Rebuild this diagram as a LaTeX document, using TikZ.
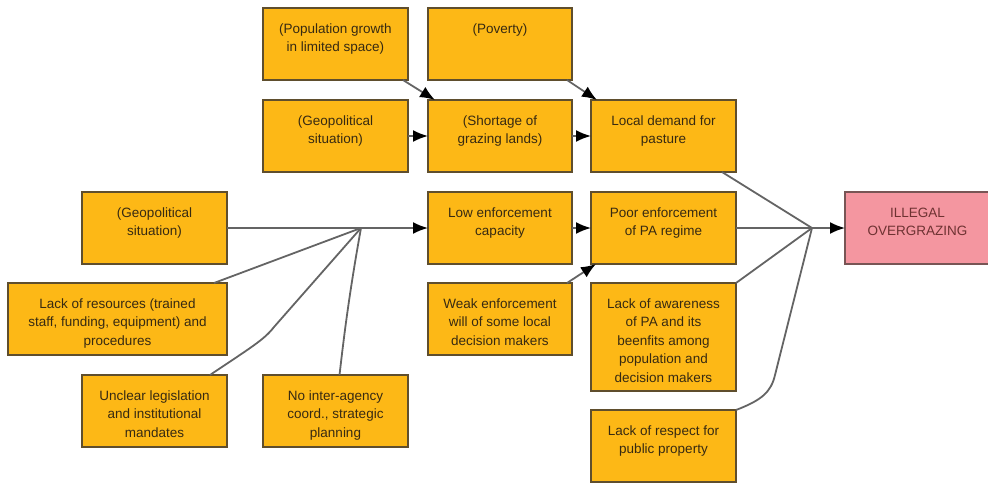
\documentclass[tikz,border=0pt]{standalone}
\usepackage{fontspec}
\setmainfont{Liberation Sans}
\usetikzlibrary{arrows.meta,calc}

\definecolor{boxfill}{RGB}{253,184,22}
\definecolor{boxline}{RGB}{95,78,45}
\definecolor{ink}{RGB}{55,42,18}
\definecolor{goalfill}{RGB}{244,150,160}
\definecolor{goalline}{RGB}{120,85,85}
\definecolor{goalink}{RGB}{110,50,50}
\definecolor{linkgray}{RGB}{100,100,100}

% box body: fixed size, text centred horizontally and hung from the top
\newcommand\cellbody[3]{\parbox[c][#2][t]{#1}{\centering\rule{0pt}{25pt}#3\par}}

\begin{document}
\begin{tikzpicture}[x=1pt, y=-1pt,
  cell/.style={draw=boxline, fill=boxfill, line width=1.3pt, inner sep=0pt,
    outer sep=0pt, anchor=north west, text=ink,
    font=\fontsize{13.5}{18.6}\selectfont},
  goal/.style={cell, draw=goalline, fill=goalfill, text=goalink},
  link/.style={draw=linkgray, line width=1.8pt},
  arr/.style={-{Latex[length=15pt,width=12pt,color=black]}}]

\useasboundingbox (0,0) rectangle (988,483);

% top two rows
\node[cell] (pop)   at (263,8)   {\cellbody{145pt}{72pt}{(Population growth\\in limited space)}};
\node[cell] (pov)   at (428,8)   {\cellbody{144pt}{72pt}{(Poverty)}};
\node[cell] (geo2)  at (263,100) {\cellbody{145pt}{72pt}{(Geopolitical\\situation)}};
\node[cell] (short) at (428,100) {\cellbody{144pt}{72pt}{(Shortage of\\grazing lands)}};
\node[cell] (local) at (591,100) {\cellbody{145pt}{72pt}{Local demand for\\pasture}};

% enforcement chain
\node[cell] (geo1)  at (82,192)  {\cellbody{145pt}{72pt}{(Geopolitical\\situation)}};
\node[cell] (res)   at (8,283)   {\cellbody{219pt}{72pt}{Lack of resources (trained\\staff, funding, equipment) and\\procedures}};
\node[cell] (uncl)  at (82,375)  {\cellbody{145pt}{72pt}{Unclear legislation\\and institutional\\mandates}};
\node[cell] (noint) at (263,375) {\cellbody{145pt}{72pt}{No inter-agency\\coord., strategic\\planning}};
\node[cell] (low)   at (428,192) {\cellbody{144pt}{72pt}{Low enforcement\\capacity}};
\node[cell] (weak)  at (428,283) {\cellbody{144pt}{72pt}{Weak enforcement\\will of some local\\decision makers}};
\node[cell] (poor)  at (591,192) {\cellbody{145pt}{72pt}{Poor enforcement\\of PA regime}};
\node[cell] (aware) at (591,283) {\cellbody{145pt}{108pt}{Lack of awareness\\of PA and its\\beenfits among\\population and\\decision makers}};
\node[cell] (resp)  at (591,410) {\cellbody{145pt}{72pt}{Lack of respect for\\public property}};

% outcome
\node[goal] (ill)   at (845,192) {\cellbody{145pt}{72pt}{ILLEGAL\\OVERGRAZING}};

% merge points
\coordinate (j1) at (361,228);
\coordinate (j2) at (812,228);

% upper links
\draw[link,arr] ($(pop.south east)+(-5,0)$) -- ($(short.north west)+(7,0)$);
\draw[link,arr] ($(pov.south east)+(-5,0)$) -- ($(local.north west)+(6,0)$);
\draw[link,arr] (geo2.east) -- (short.west);
\draw[link,arr] (short.east) -- (local.west);

% causes of low enforcement capacity
\draw[link] (geo1.east) -- (j1);
\draw[link] ($(res.north east)+(-13,0)$) -- (j1);
\draw[link] ($(uncl.north east)+(-17,0)$) .. controls (250,348) and (264,340) .. (274,327) -- (j1);
\draw[link] ($(noint.north)+(4,0)$) .. controls (343,345) and (348,300) .. (j1);
\draw[link,arr] (j1) -- (low.west);

% enforcement links
\draw[link,arr] (low.east) -- (poor.west);
\draw[link,arr] ($(weak.north east)+(-5,0)$) -- ($(poor.south west)+(5,0)$);

% drivers of illegal overgrazing
\draw[link] ($(local.south east)+(-14,0)$) -- (j2);
\draw[link] (poor.east) -- (j2);
\draw[link] (aware.north east) -- (j2);
\draw[link] (resp.north east) .. controls (762,400) and (771,392) .. (775,375) -- (j2);
\draw[link,arr] (j2) -- (ill.west);

\end{tikzpicture}
\end{document}
